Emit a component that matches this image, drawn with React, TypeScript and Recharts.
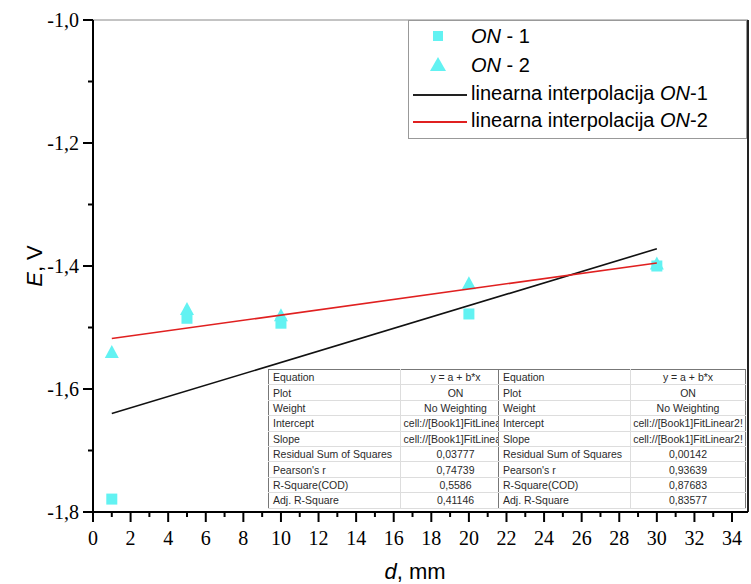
import React from "react";
import {
  ScatterChart,
  Scatter,
  XAxis,
  YAxis,
  ReferenceLine,
} from "recharts";

const thickness = [1, 5, 10, 20, 30];
const on1 = [-1.779, -1.485, -1.493, -1.478, -1.4];
const on2 = [-1.54, -1.47, -1.48, -1.428, -1.396];

const fitX = [1, 30];
const fit1 = [-1.64, -1.372];
const fit2 = [-1.518, -1.395];

const xTicks = [
  0, 1, 2, 3, 4, 5, 6, 7, 8, 9, 10, 11, 12, 13, 14, 15, 16, 17, 18, 19, 20,
  21, 22, 23, 24, 25, 26, 27, 28, 29, 30, 31, 32, 33, 34,
];
const yTicks = [-1.8, -1.7, -1.6, -1.5, -1.4, -1.3, -1.2, -1.1, -1.0];

const tableLabels = [
  "Equation",
  "Plot",
  "Weight",
  "Intercept",
  "Slope",
  "Residual Sum of Squares",
  "Pearson's r",
  "R-Square(COD)",
  "Adj. R-Square",
];
const table1Values = [
  "y = a + b*x",
  "ON",
  "No Weighting",
  "cell://[Book1]FitLinear!",
  "cell://[Book1]FitLinear!",
  "0,03777",
  "0,74739",
  "0,5586",
  "0,41146",
];
const table2Values = [
  "y = a + b*x",
  "ON",
  "No Weighting",
  "cell://[Book1]FitLinear2!",
  "cell://[Book1]FitLinear2!",
  "0,00142",
  "0,93639",
  "0,87683",
  "0,83577",
];

const CYAN = "#62f2f2";
const SANS = "'Liberation Sans', Arial, sans-serif";
const SERIF = "'Liberation Serif', 'Times New Roman', serif";

const on1Data = thickness.map((d, i) => ({ d, e: on1[i] }));
const on2Data = thickness.map((d, i) => ({ d, e: on2[i] }));
const fit1Data = fitX.map((d, i) => ({ d, e: fit1[i] }));
const fit2Data = fitX.map((d, i) => ({ d, e: fit2[i] }));

const Square = (p: any) => (
  <rect x={p.cx - 5.5} y={p.cy - 5.5} width={11} height={11} fill={CYAN} />
);
const Triangle = (p: any) => (
  <polygon
    points={`${p.cx},${p.cy - 7} ${p.cx + 7},${p.cy + 6} ${p.cx - 7},${p.cy + 6}`}
    fill={CYAN}
  />
);
const NoDot = () => null;

const XTick = (p: any) => {
  const v = p.payload.value;
  const major = v % 2 === 0;
  return (
    <g>
      <line x1={p.x} x2={p.x} y1={p.y} y2={p.y + (major ? 10 : 5)} stroke="#000" strokeWidth={2} />
      {major && (
        <text x={p.x} y={p.y + 33} textAnchor="middle" fontFamily={SERIF} fontSize={20} fill="#000">
          {v}
        </text>
      )}
    </g>
  );
};

const YTick = (p: any) => {
  const v = p.payload.value;
  const major = Math.round(v * 10) % 2 === 0;
  return (
    <g>
      <line x1={p.x} x2={p.x - (major ? 10 : 5)} y1={p.y} y2={p.y} stroke="#000" strokeWidth={2} />
      {major && (
        <text x={p.x - 14} y={p.y + 7} textAnchor="end" fontFamily={SERIF} fontSize={20} fill="#000">
          {v.toFixed(1).replace(".", ",")}
        </text>
      )}
    </g>
  );
};

const LegendBox = () => (
  <div
    style={{
      position: "absolute",
      left: 408,
      top: 20,
      width: 339,
      height: 119,
      border: "1px solid #999",
      background: "#fff",
      fontFamily: SANS,
      fontSize: 20,
      color: "#000",
      boxSizing: "border-box",
    }}
  >
    <div style={{ position: "absolute", left: 24, top: 10, width: 10, height: 10, background: CYAN }} />
    <div style={{ position: "absolute", left: 62, top: 4 }}>
      <i>ON</i> - 1
    </div>
    <svg style={{ position: "absolute", left: 21, top: 36 }} width={16} height={14}>
      <polygon points="8,0 16,14 0,14" fill={CYAN} />
    </svg>
    <div style={{ position: "absolute", left: 62, top: 33 }}>
      <i>ON</i> - 2
    </div>
    <div style={{ position: "absolute", left: 4, top: 73, width: 54, height: 2, background: "#222" }} />
    <div style={{ position: "absolute", left: 62, top: 61 }}>
      linearna interpolacija <i>ON</i>-1
    </div>
    <div style={{ position: "absolute", left: 4, top: 100, width: 54, height: 2, background: "#e02020" }} />
    <div style={{ position: "absolute", left: 62, top: 88 }}>
      linearna interpolacija <i>ON</i>-2
    </div>
  </div>
);

const FitTable = ({ values, left, valueWidth, clip }: { values: string[]; left: number; valueWidth: number; clip?: number }) => (
  <div style={{ position: "absolute", left, top: 369, width: clip ?? 132 + valueWidth + 2, overflow: "hidden" }}>
    <table
      style={{
        width: 132 + valueWidth,
        borderCollapse: "collapse",
        background: "#fff",
        border: "1px solid #777",
        fontFamily: SANS,
        fontSize: 10.5,
        color: "#2a2a2a",
        tableLayout: "fixed",
      }}
    >
      <colgroup>
        <col style={{ width: 132 }} />
        <col style={{ width: valueWidth }} />
      </colgroup>
      <tbody>
        {tableLabels.map((label, i) => (
          <tr key={label} style={{ height: 15.4 }}>
            <td
              style={{
                padding: "0 0 0 4px",
                borderBottom: "1px solid #ddd",
                borderRight: "1px solid #ddd",
                whiteSpace: "nowrap",
                overflow: "hidden",
                lineHeight: "14px",
              }}
            >
              {label}
            </td>
            <td
              style={{
                padding: 0,
                textAlign: "center",
                borderBottom: "1px solid #ddd",
                whiteSpace: "nowrap",
                overflow: "hidden",
                lineHeight: "14px",
              }}
            >
              {values[i]}
            </td>
          </tr>
        ))}
      </tbody>
    </table>
  </div>
);

export default function App() {
  return (
    <div style={{ position: "absolute", left: 0, top: 0, width: 751, height: 584, background: "#fff" }}>
      <ScatterChart width={751} height={584} margin={{ top: 20, right: 3, left: 0, bottom: 0 }}>
        <XAxis
          type="number"
          dataKey="d"
          domain={[0, 34.85]}
          ticks={xTicks}
          interval={0}
          tick={<XTick />}
          tickLine={false}
          tickSize={0}
          tickMargin={0}
          height={72}
          axisLine={{ stroke: "#000", strokeWidth: 2 }}
          allowDataOverflow
        />
        <YAxis
          type="number"
          dataKey="e"
          domain={[-1.8, -1.0]}
          ticks={yTicks}
          interval={0}
          tick={<YTick />}
          tickLine={false}
          tickSize={0}
          tickMargin={0}
          width={93}
          axisLine={{ stroke: "#000", strokeWidth: 2 }}
          allowDataOverflow
        />
        <ReferenceLine y={-1.0} stroke="#888" strokeWidth={1} />
        <ReferenceLine x={34.85} stroke="#222" strokeWidth={2} />
        <Scatter name="ON - 1" data={on1Data} shape={<Square />} isAnimationActive={false} />
        <Scatter name="ON - 2" data={on2Data} shape={<Triangle />} isAnimationActive={false} />
        <Scatter
          name="linearna interpolacija ON-1"
          data={fit1Data}
          line={{ stroke: "#111", strokeWidth: 1.6 }}
          shape={<NoDot />}
          isAnimationActive={false}
        />
        <Scatter
          name="linearna interpolacija ON-2"
          data={fit2Data}
          line={{ stroke: "#e02020", strokeWidth: 1.6 }}
          shape={<NoDot />}
          isAnimationActive={false}
        />
      </ScatterChart>

      <LegendBox />
      <FitTable values={table1Values} left={268} valueWidth={110} clip={230} />
      <FitTable values={table2Values} left={498} valueWidth={115} />

      <div
        style={{
          position: "absolute",
          left: 35,
          top: 266,
          transform: "translate(-50%, -50%) rotate(-90deg)",
          fontFamily: SANS,
          fontSize: 22,
          whiteSpace: "nowrap",
        }}
      >
        <i>E</i>, V
      </div>
      <div
        style={{
          position: "absolute",
          left: 415,
          top: 572,
          transform: "translate(-50%, -50%)",
          fontFamily: SANS,
          fontSize: 22,
          whiteSpace: "nowrap",
        }}
      >
        <i>d</i>, mm
      </div>
    </div>
  );
}
